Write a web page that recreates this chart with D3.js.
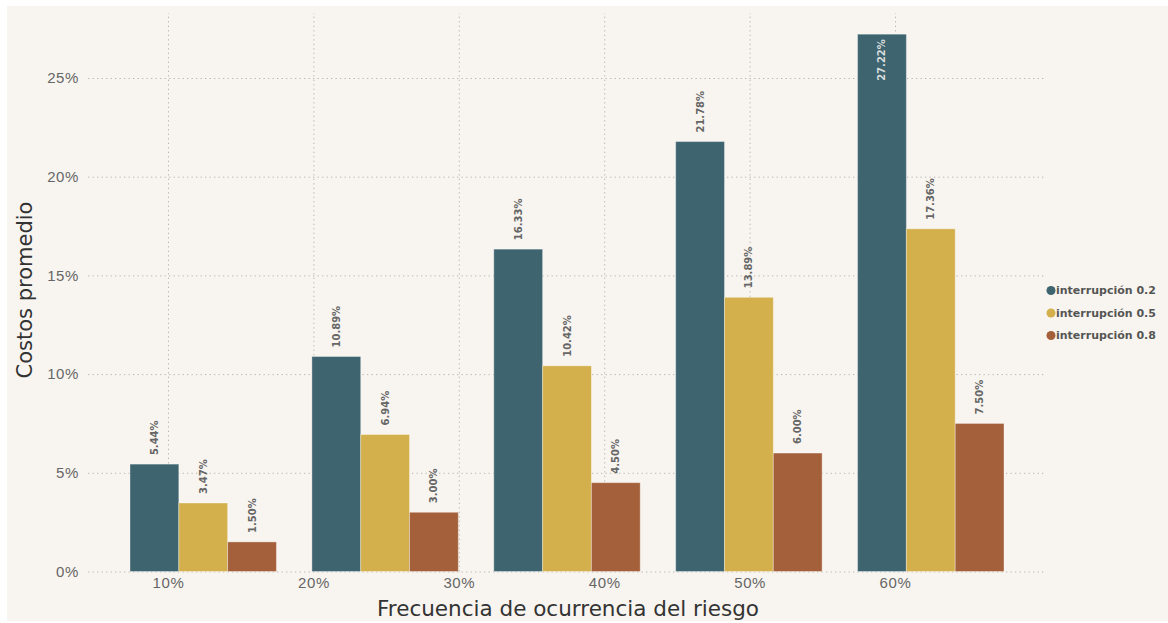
<!DOCTYPE html>
<html><head><meta charset="utf-8">
<script src="https://cdn.jsdelivr.net/npm/d3@7"></script>
<style>
html,body{margin:0;padding:0;background:#fff;}
svg{display:block;font-family:"DejaVu Sans",Verdana,sans-serif;}
</style></head>
<body>
<svg id="chart" width="1168" height="623"></svg>
<script>
const groups = ["g1","g2","g3","g4","g5"];
const seriesNames = ["interrupción 0.2","interrupción 0.5","interrupción 0.8"];
const s02 = [0.0544,0.1089,0.1633,0.2178,0.2722];
const s05 = [0.0347,0.0694,0.1042,0.1389,0.1736];
const s08 = [0.0150,0.0300,0.0450,0.0600,0.0750];
const xTicks = [0.1,0.2,0.3,0.4,0.5,0.6];
const yTicks = [0,0.05,0.10,0.15,0.20,0.25];
const colors = ["#3e6470","#d3b04b","#a4603a"];

const svg = d3.select("#chart");
svg.append("rect").attr("x",7).attr("y",6).attr("width",1161).attr("height",615).attr("fill","#f8f5f0");

const y = d3.scaleLinear().domain([0,0.25]).range([571.5,78]);
const xt = d3.scaleLinear().domain([0.1,0.6]).range([168,895]);
const x0 = d3.scaleBand().domain(groups).range([130,1004]).paddingInner(0.195).paddingOuter(0);
const x1 = d3.scaleBand().domain(seriesNames).range([0,x0.bandwidth()]);

const fmtPct = d3.format(".0%");
const yAxis = d3.axisLeft(y).tickValues(yTicks).tickFormat(fmtPct).tickSize(-(1045-88)).tickPadding(9);
const gy = svg.append("g").attr("transform","translate(88,0)").call(yAxis);
gy.select(".domain").remove();
gy.selectAll(".tick line").attr("stroke","#b9b6b1").attr("stroke-dasharray","1.3,3.2");
gy.selectAll(".tick text").attr("fill","#666").attr("font-size",15).attr("letter-spacing",0.6).attr("x",-9);

const xAxis = d3.axisBottom(xt).tickValues(xTicks).tickFormat(fmtPct).tickSize(-(571.5-13)).tickPadding(6);
const gx = svg.append("g").attr("transform","translate(0,571.5)").call(xAxis);
gx.select(".domain").remove();
gx.selectAll(".tick line").attr("stroke","#b9b6b1").attr("stroke-dasharray","1.3,3.2");
gx.selectAll(".tick text").attr("fill","#666").attr("font-size",15).attr("letter-spacing",0.6);

const data = groups.map((g,i)=>({g, vals:[s02[i],s05[i],s08[i]]}));
const gg = svg.append("g").selectAll("g").data(data).join("g")
  .attr("transform",d=>`translate(${x0(d.g)},0)`);
gg.selectAll("rect").data(d=>d.vals.map((v,j)=>({v,s:seriesNames[j],j}))).join("rect")
  .attr("x",d=>x1(d.s)).attr("width",x1.bandwidth())
  .attr("y",d=>y(d.v)).attr("height",d=>y(0)-y(d.v))
  .attr("fill",d=>colors[d.j]).attr("stroke","rgba(255,255,255,0.35)").attr("stroke-width",1);

const fmtLbl = v => (v*100).toFixed(2)+"%";
gg.selectAll("text.val").data(d=>d.vals.map((v,j)=>({v,s:seriesNames[j],j}))).join("text")
  .attr("class","val")
  .attr("transform",d=>{
    const cx = x1(d.s)+x1.bandwidth()/2;
    const inside = y(d.v) < 60;
    const ty = inside ? y(d.v)+5 : y(d.v)-9;
    return `translate(${cx+3.5},${ty}) rotate(-90)`;
  })
  .attr("text-anchor",d=> y(d.v) < 60 ? "end" : "start")
  .attr("font-size",10).attr("font-weight","bold")
  .attr("fill",d=> y(d.v) < 60 ? "#d8dcdc" : "#666")
  .text(d=>fmtLbl(d.v));

svg.append("text").attr("x",568).attr("y",616).attr("text-anchor","middle")
  .attr("font-size",21.5).attr("fill","#333").text("Frecuencia de ocurrencia del riesgo");
svg.append("text").attr("transform","translate(32,290) rotate(-90)").attr("text-anchor","middle")
  .attr("font-size",21).attr("fill","#333").text("Costos promedio");

const lg = svg.append("g").selectAll("g").data(seriesNames).join("g")
  .attr("transform",(d,i)=>`translate(1051,${290.5+i*22.5})`);
lg.append("circle").attr("r",4.5).attr("fill",(d,i)=>colors[i]);
lg.append("text").attr("x",5).attr("dy","0.35em").attr("font-size",11).attr("font-weight","bold")
  .attr("fill","#555").text(d=>d);
</script>
</body></html>
